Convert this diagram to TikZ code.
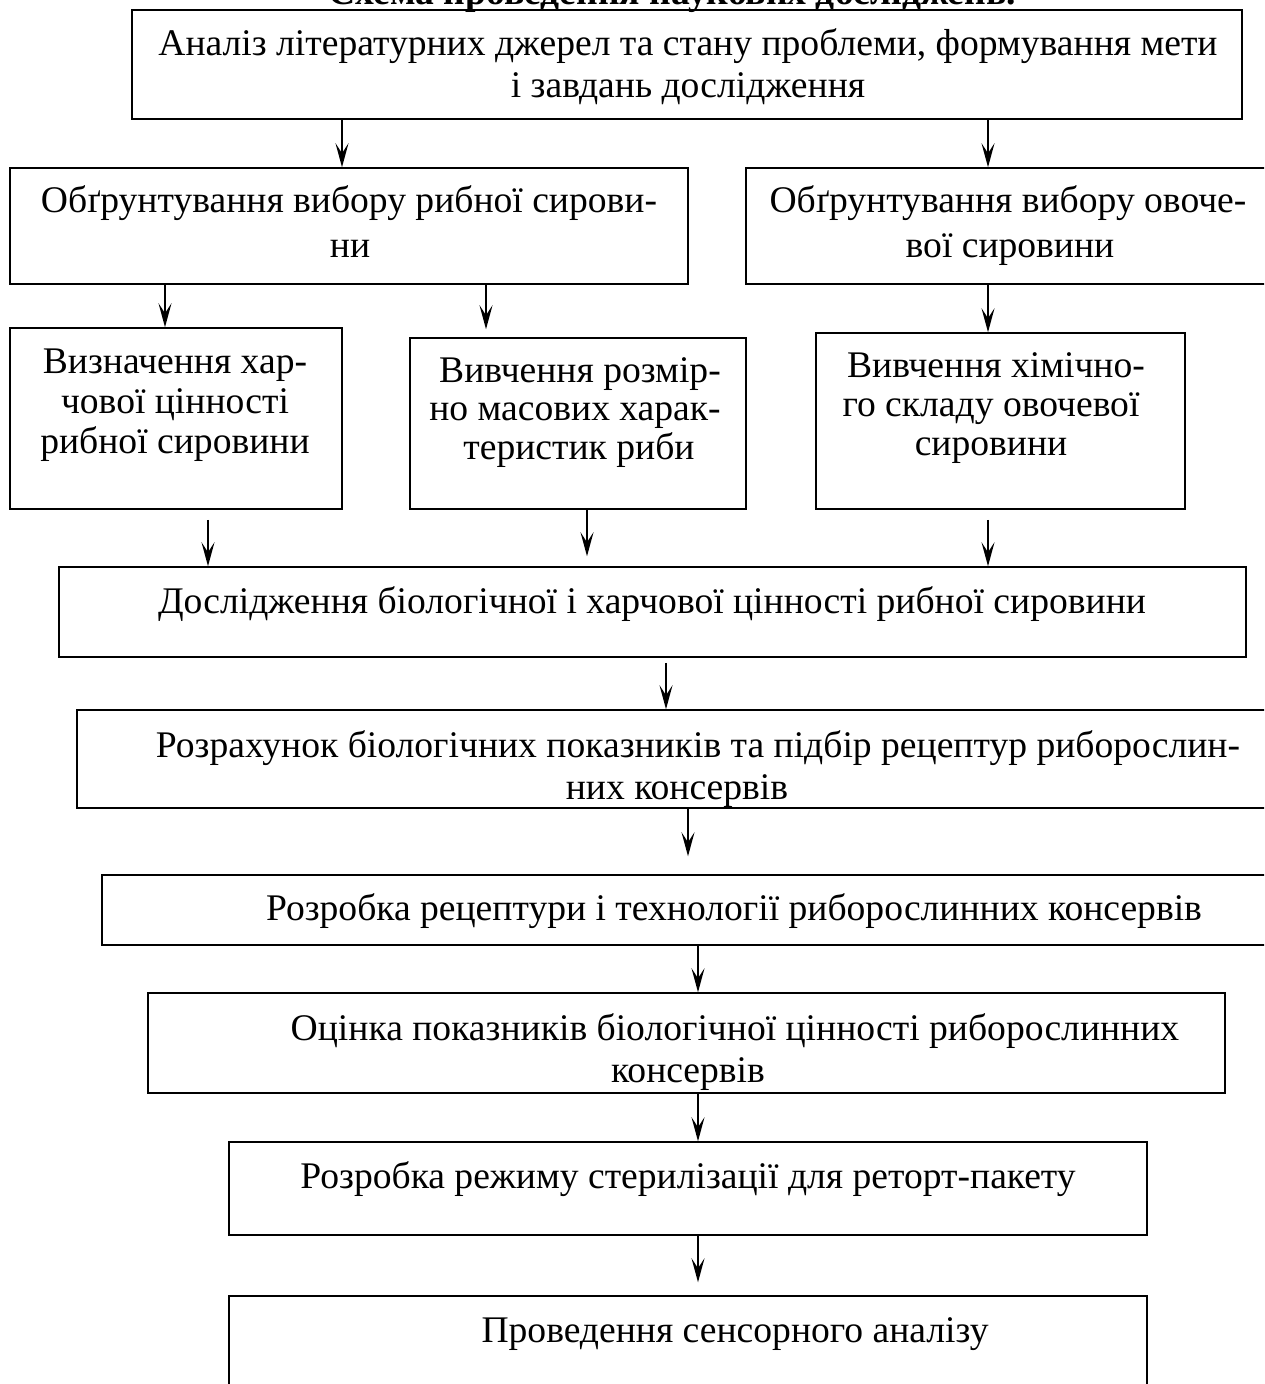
\documentclass[tikz,border=0pt]{standalone}
\usepackage{fontspec}
\setmainfont{Liberation Serif}
\usepackage{tikz}
\usetikzlibrary{arrows.meta}

\begin{document}
\begin{tikzpicture}[x=0.5pt,y=-0.5pt]
\tikzset{box/.style={rectangle,draw,line width=0.75pt,inner sep=0pt},
         lab/.style={draw=none,fill=none,inner sep=0pt,anchor=base,font=\fontsize{18.8}{22}\selectfont},
         arr/.style={line width=0.75pt,-{Stealth[length=12pt,width=6.5pt,inset=5pt]}}}
\useasboundingbox (0,0) rectangle (1264,1384);
\clip (0,0) rectangle (1264,1384);
% title, cut by the top edge
\node[lab,font=\fontsize{18.8}{22}\selectfont\bfseries] (title) at (672,5) {Схема проведення наукових досліджень.};
% boxes
\node[box,minimum width=555pt,minimum height=54.5pt] (b1) at (687,64.5) {};
\node[box,minimum width=339pt,minimum height=58pt] (b2) at (349,226) {};
\node[box,minimum width=262pt,minimum height=58pt] (b3) at (1008,226) {};
\node[box,minimum width=166pt,minimum height=90.5pt] (b4) at (176,418.5) {};
\node[box,minimum width=168pt,minimum height=85.5pt] (b5) at (578,423.5) {};
\node[box,minimum width=184.5pt,minimum height=88pt] (b6) at (1000.5,421) {};
\node[box,minimum width=593.5pt,minimum height=45pt] (b7) at (652.5,612) {};
\node[box,minimum width=606.5pt,minimum height=49pt] (b8) at (683.5,759) {};
\node[box,minimum width=594pt,minimum height=35pt] (b9) at (696,910) {};
\node[box,minimum width=538.5pt,minimum height=50pt] (b10) at (686.5,1043) {};
\node[box,minimum width=459pt,minimum height=46.5pt] (b11) at (688,1188.5) {};
\node[box,minimum width=459pt,minimum height=57pt] (b12) at (688,1353) {};
% texts
\node[lab] (t1a) at (688,56) {Аналіз літературних джерел та стану проблеми, формування мети};
\node[lab] (t1b) at (688,98) {і завдань дослідження};
\node[lab] (t2a) at (349,213) {Обґрунтування вибору рибної сирови-};
\node[lab] (t2b) at (350,258) {ни};
\node[lab] (t3a) at (1008,213) {Обґрунтування вибору овоче-};
\node[lab] (t3b) at (1010,258) {вої сировини};
\node[lab] (t4a) at (175,374) {Визначення хар-};
\node[lab] (t4b) at (175,414) {чової цінності};
\node[lab] (t4c) at (175,454) {рибної сировини};
\node[lab] (t5a) at (580,383) {Вивчення розмір-};
\node[lab] (t5b) at (575,421) {но масових харак-};
\node[lab] (t5c) at (579,460) {теристик риби};
\node[lab] (t6a) at (996,378) {Вивчення хімічно-};
\node[lab] (t6b) at (991,417) {го складу овочевої};
\node[lab] (t6c) at (991,456) {сировини};
\node[lab] (t7) at (652,613) {Дослідження біологічної і харчової цінності рибної сировини};
\node[lab] (t8a) at (698,757) {Розрахунок біологічних показників та підбір рецептур риборослин-};
\node[lab] (t8b) at (677,799) {них консервів};
\node[lab] (t9) at (734,920) {Розробка рецептури і технології риборослинних консервів};
\node[lab] (t10a) at (735,1040) {Оцінка показників біологічної цінності риборослинних};
\node[lab] (t10b) at (688,1082) {консервів};
\node[lab] (t11) at (688,1188) {Розробка режиму стерилізації для реторт-пакету};
\node[lab] (t12) at (735,1342) {Проведення сенсорного аналізу};
% arrows
\draw[arr] (b1.south -| 342,0) -- (b2.north -| 342,0);
\draw[arr] (b1.south -| 988,0) -- (b3.north -| 988,0);
\draw[arr] (b2.south -| 165,0) -- (b4.north -| 165,0);
\draw[arr,shorten >=4pt] (b2.south -| 486,0) -- (b5.north -| 486,0);
\draw[arr] (b3.south -| 988,0) -- (b6.north -| 988,0);
\draw[arr,shorten <=5pt] (b4.south -| 208,0) -- (b7.north -| 208,0);
\draw[arr,shorten >=5pt] (b5.south -| 587,0) -- (b7.north -| 587,0);
\draw[arr,shorten <=5pt] (b6.south -| 988,0) -- (b7.north -| 988,0);
\draw[arr,shorten <=2.5pt] (b7.south -| 666,0) -- (b8.north -| 666,0);
\draw[arr,shorten >=9pt] (b8.south -| 688,0) -- (b9.north -| 688,0);
\draw[arr] (b9.south -| 698,0) -- (b10.north -| 698,0);
\draw[arr] (b10.south -| 698,0) -- (b11.north -| 698,0);
\draw[arr,shorten >=6.5pt] (b11.south -| 698,0) -- (b12.north -| 698,0);
\end{tikzpicture}
\end{document}
